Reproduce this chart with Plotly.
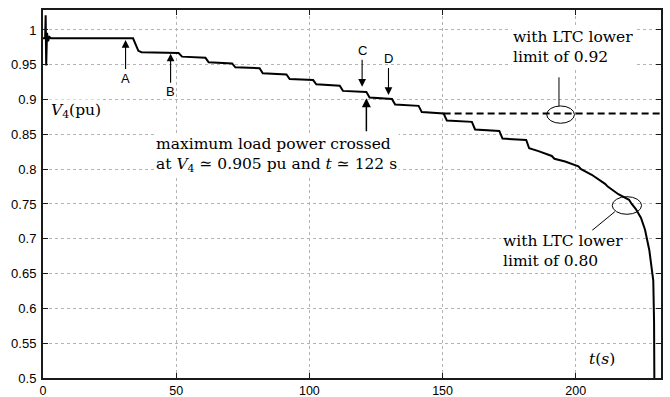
import plotly.graph_objects as go

# ---- data ----
t_080 = [0, 0.8, 1.0, 1.2, 1.5, 1.9, 2.4, 3.0,
         33.8, 34.8, 35.8, 37.0,
         50.9, 52.2, 61.0, 62.2, 71.0, 72.2, 81.3, 82.5, 91.4, 92.6,
         101.4, 102.6, 111.4, 112.6, 121.4, 122.6, 131.0, 132.2, 141.0, 142.2,
         150.4, 151.6, 161.0, 162.2, 171.3, 172.5, 181.4, 182.5,
         186.0, 191.0, 192.0, 196.0, 201.0, 202.0, 206.0, 211.0, 212.0, 216.0,
         220.0, 221.0, 222.5, 224.5, 226.0, 227.6, 228.5, 229.1, 229.4, 229.5]
v_080 = [0.988, 0.988, 1.021, 0.949, 0.996, 0.984, 0.990, 0.988,
         0.988, 0.978, 0.970, 0.968,
         0.967, 0.9617, 0.960, 0.9536, 0.952, 0.9464, 0.945, 0.9377, 0.936, 0.9296,
         0.928, 0.922, 0.920, 0.9125, 0.911, 0.903, 0.901, 0.893, 0.891, 0.882,
         0.880, 0.870, 0.868, 0.857, 0.855, 0.844, 0.842, 0.830,
         0.826, 0.819, 0.815, 0.811, 0.804, 0.800, 0.792, 0.779, 0.775, 0.764,
         0.756, 0.750, 0.743, 0.730, 0.713, 0.684, 0.660, 0.640, 0.580, 0.500]

t_092 = [150.4, 232.0]
v_092 = [0.880, 0.880]

x_ticks = [0, 50, 100, 150, 200]
y_ticks = [0.5, 0.55, 0.6, 0.65, 0.7, 0.75, 0.8, 0.85, 0.9, 0.95, 1.0]
y_ticklabels = ["0.5", "0.55", "0.6", "0.65", "0.7", "0.75", "0.8", "0.85", "0.9", "0.95", "1"]

# event markers: label, time, voltage at arrow tip, offset direction
event_labels = ["A", "B", "C", "D"]
event_t = [31.0, 47.9, 119.8, 129.7]
event_v = [0.9856, 0.966, 0.9185, 0.9066]
event_ay = [38, 38, -36, -36]

SERIF = "DejaVu Serif"
SANS = "Liberation Sans"
SERIF_SIZE = 15.5

fig = go.Figure()
fig.add_trace(go.Scatter(x=t_080, y=v_080, mode="lines",
                         line=dict(color="black", width=2), showlegend=False,
                         hoverinfo="skip"))
fig.add_trace(go.Scatter(x=t_092, y=v_092, mode="lines",
                         line=dict(color="black", width=2, dash="7px,4px"),
                         showlegend=False, hoverinfo="skip"))

annotations = []
for lab, tx, vy, ay in zip(event_labels, event_t, event_v, event_ay):
    annotations.append(dict(x=tx, y=vy, xref="x", yref="y", text=lab,
                            showarrow=True, ax=0, ay=ay, arrowhead=2,
                            arrowsize=1.4, arrowwidth=1.1, arrowcolor="black",
                            font=dict(family=SANS, size=13, color="black")))
# upward arrow at maximum-load crossing
annotations.append(dict(x=121.4, y=0.9019, xref="x", yref="y", text=" ",
                        showarrow=True, ax=0, ay=36, arrowhead=2, arrowsize=1.2,
                        arrowwidth=1.5, arrowcolor="black",
                        font=dict(size=2)))

annotations += [
    dict(x=12.5, y=0.884, xref="x", yref="y", showarrow=False,
         text="<i>V</i><sub>4</sub>(pu)", bgcolor="white",
         font=dict(family=SERIF, size=SERIF_SIZE, color="black")),
    dict(x=209.9, y=0.527, xref="x", yref="y", showarrow=False,
         text="<i>t</i>(<i>s</i>)", bgcolor="white",
         font=dict(family=SERIF, size=SERIF_SIZE, color="black")),
    dict(x=41.5, y=0.820, xref="x", yref="y", showarrow=False,
         xanchor="left", align="left", bgcolor="white",
         text="maximum load power crossed<br>at <i>V</i><sub>4</sub> ≃ 0.905 pu and <i>t</i> ≃ 122 s",
         font=dict(family=SERIF, size=SERIF_SIZE, color="black")),
    dict(x=175.5, y=0.976, xref="x", yref="y", showarrow=False,
         xanchor="left", align="left", bgcolor="white",
         text="with LTC lower<br>limit of 0.92",
         font=dict(family=SERIF, size=SERIF_SIZE, color="black")),
    dict(x=172.0, y=0.682, xref="x", yref="y", showarrow=False,
         xanchor="left", align="left", bgcolor="white",
         text="with LTC lower<br>limit of 0.80",
         font=dict(family=SERIF, size=SERIF_SIZE, color="black")),
]

shapes = [
    dict(type="circle", xref="x", yref="y", x0=189.1, x1=199.5, y0=0.866, y1=0.8908,
         line=dict(color="black", width=1)),
    dict(type="line", xref="x", yref="y", x0=193.7, x1=193.7, y0=0.8908, y1=0.932,
         line=dict(color="black", width=1)),
    dict(type="circle", xref="x", yref="y", x0=213.7, x1=224.7, y0=0.7352, y1=0.7605,
         line=dict(color="black", width=1)),
    dict(type="line", xref="x", yref="y", x0=214.7, x1=206.0, y0=0.739, y1=0.7116,
         line=dict(color="black", width=1)),
]

axis_common = dict(showline=True, linecolor="#1a1a1a", linewidth=2, mirror="allticks",
                   ticks="inside", ticklen=5, tickcolor="#1a1a1a", tickwidth=1,
                   showgrid=True, gridcolor="#b4b4b4", gridwidth=1, griddash="dot",
                   zeroline=False, automargin=False)

fig.update_layout(
    width=670, height=397,
    margin=dict(l=43, r=9, t=10, b=19),
    paper_bgcolor="white", plot_bgcolor="white",
    xaxis=dict(range=[0, 232], tickvals=x_ticks, ticklabelstandoff=0,
               tickfont=dict(family=SANS, size=12.5, color="black"), **axis_common),
    yaxis=dict(range=[0.5, 1.0287], tickvals=y_ticks, ticktext=y_ticklabels,
               ticklabelstandoff=2,
               tickfont=dict(family=SANS, size=13, color="black"), **axis_common),
    annotations=annotations, shapes=shapes, showlegend=False,
)

fig.write_html("out.html")
